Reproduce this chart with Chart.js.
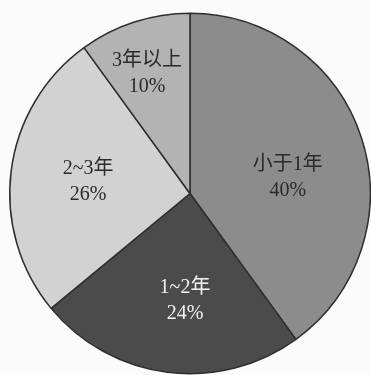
<!DOCTYPE html>
<html>
<head>
<meta charset="utf-8">
<script src="https://cdn.jsdelivr.net/npm/chart.js@4/dist/chart.umd.min.js"></script>
<style>
  html, body { margin: 0; padding: 0; background: #fbfbfb; }
  #wrap { width: 371px; height: 375px; }
</style>
</head>
<body>
<div id="wrap"><canvas id="pie"></canvas></div>
<script>
// datos del gráfico
const categorias = ['小于1年', '1~2年', '2~3年', '3年以上'];
const valores = [40, 24, 26, 10];
const etiquetasPct = ['40%', '24%', '26%', '10%'];

// estilo de cada porción
const colores = ['#8c8c8c', '#4b4b4b', '#d2d2d2', '#b3b3b3'];
const coloresTexto = ['#2a2a2a', '#f2f2f2', '#2a2a2a', '#2a2a2a'];
const radioTexto = [0.55, 0.59, 0.57, 0.71];
const desvioAngulo = [8.5, -4.5, 0, -1.6]; // grados

const etiquetasPlugin = {
    id: 'etiquetas',
    afterDatasetsDraw(chart) {
        const ctx = chart.ctx;
        const arcs = chart.getDatasetMeta(0).data;
        ctx.save();
        ctx.font = '20px "Liberation Serif", "Noto Sans CJK SC", serif';
        ctx.textAlign = 'center';
        ctx.textBaseline = 'middle';
        arcs.forEach((arc, i) => {
            const p = arc.getProps(['x', 'y', 'startAngle', 'endAngle', 'outerRadius']);
            const medio = (p.startAngle + p.endAngle) / 2 + desvioAngulo[i] * Math.PI / 180;
            const r = p.outerRadius * radioTexto[i];
            const x = p.x + Math.cos(medio) * r;
            const y = p.y + Math.sin(medio) * r;
            ctx.fillStyle = coloresTexto[i];
            ctx.fillText(categorias[i], x, y - 12);
            ctx.fillText(etiquetasPct[i], x, y + 14);
        });
        ctx.restore();
    }
};

new Chart(document.getElementById('pie'), {
    type: 'pie',
    data: {
        labels: categorias,
        datasets: [{
            data: valores,
            backgroundColor: colores,
            borderColor: '#2e2e2e',
            borderWidth: 1.5
        }]
    },
    options: {
        responsive: true,
        maintainAspectRatio: false,
        animation: false,
        layout: { padding: { left: 9, top: 12, right: 0, bottom: 0 } },
        plugins: {
            legend: { display: false },
            tooltip: { enabled: false }
        }
    },
    plugins: [etiquetasPlugin]
});
</script>
</body>
</html>
